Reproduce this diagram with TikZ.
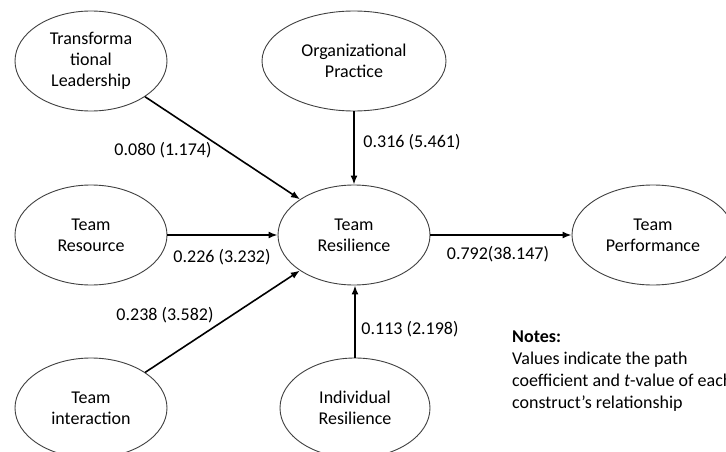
\documentclass[tikz,border=0pt]{standalone}
\usepackage{fontspec}
\setmainfont{Carlito}
\usetikzlibrary{shapes.geometric,arrows.meta}
\tikzset{
  construct/.style={ellipse,draw=black!75,line width=0.9pt,inner sep=0pt,align=center,
    font=\fontsize{18}{21}\selectfont},
  path/.style={line width=1.6pt,-{Latex[length=9pt,width=7pt]}},
  coef/.style={font=\fontsize{18}{21}\selectfont,inner sep=0pt}
}
\begin{document}
\begin{tikzpicture}[x=1pt,y=-1pt]
\useasboundingbox (0,0) rectangle (726,452);
\clip (0,0) rectangle (726,452);
\fill[white] (0,0) rectangle (726,452);
\node[construct,minimum width=152pt,minimum height=100pt] (tl) at (91,61) {Transforma\\tional\\Leadership};
\node[construct,minimum width=184pt,minimum height=100pt] (op) at (354,61) {Organizational\\Practice};
\node[construct,minimum width=152pt,minimum height=100pt] (trs) at (91,235) {Team\\Resource};
\node[construct,minimum width=152pt,minimum height=100pt] (tr) at (354,235) {Team\\Resilience};
\node[construct,minimum width=162pt,minimum height=100pt] (tp) at (653,235) {Team\\Performance};
\node[construct,minimum width=152pt,minimum height=100pt] (ti) at (91,408) {Team\\interaction};
\node[construct,minimum width=150pt,minimum height=100pt] (ir) at (355,408) {Individual\\Resilience};
\draw[path] (tl) -- (tr);
\draw[path] (op) -- (tr);
\draw[path] (trs) -- (tr);
\draw[path] (ti) -- (tr);
\draw[path] (ir.north) -- (ir.north |- tr.south);
\draw[path] (tr) -- (tp);
\node[coef] (l1) at (163,150) {0.080 (1.174)};
\node[coef] (l2) at (412,142) {0.316 (5.461)};
\node[coef] (l3) at (222,257) {0.226 (3.232)};
\node[coef] (l4) at (165,315) {0.238 (3.582)};
\node[coef] (l5) at (410,329) {0.113 (2.198)};
\node[coef] (l6) at (498,254) {0.792(38.147)};
\node[anchor=north west,inner sep=0pt,align=left,font=\fontsize{18}{22}\selectfont] (notes) at (512,331)
  {\textbf{Notes:}\\Values indicate the path\\coefficient and \textit{t}-value of each\\construct’s relationship};
\end{tikzpicture}
\end{document}
